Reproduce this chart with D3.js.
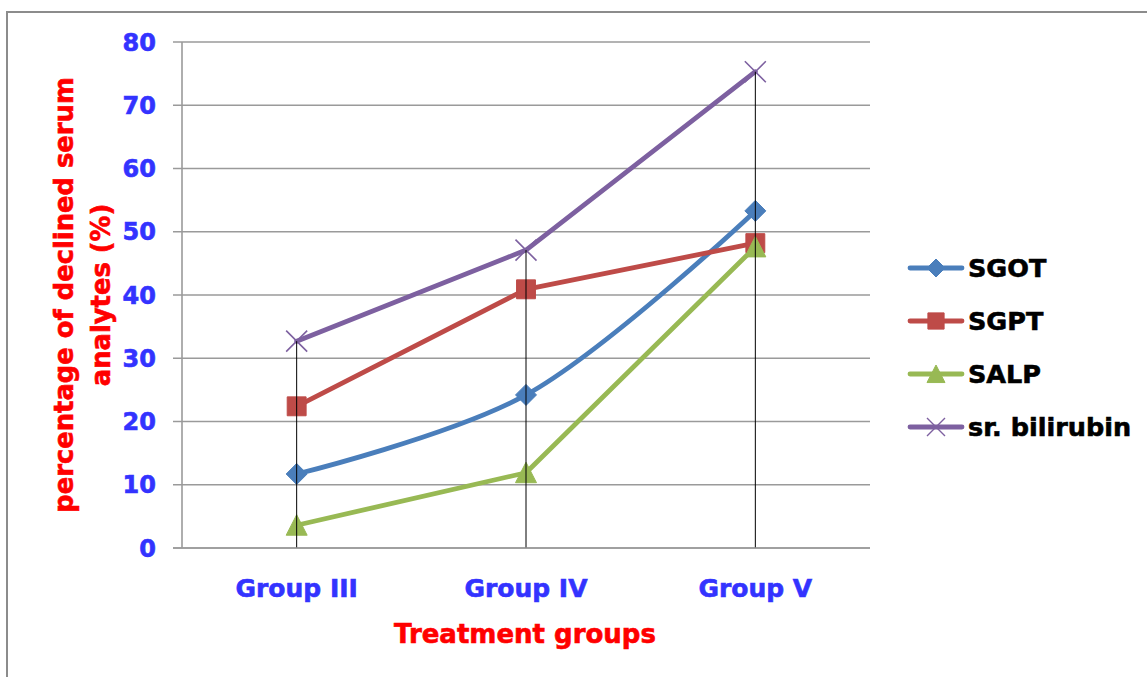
<!DOCTYPE html>
<html>
<head>
<meta charset="utf-8">
<script src="https://cdn.jsdelivr.net/npm/d3@7"></script>
<style>
  html, body { margin: 0; padding: 0; background: #ffffff; }
  svg { display: block; }
  text { font-family: "DejaVu Sans", "Liberation Sans", Arial, sans-serif; font-weight: bold; }
</style>
</head>
<body>
<svg id="chart" width="1147" height="677"></svg>
<script>
// ---- data ----
const categories = ["Group III", "Group IV", "Group V"];
const sgot = [11.7, 24.2, 53.3];
const sgpt = [22.4, 40.9, 48.2];
const salp = [3.6, 11.9, 47.6];
const bilirubin = [32.7, 47.1, 75.3];
const seriesNames = ["SGOT", "SGPT", "SALP", "sr. bilirubin"];
const yTicks = [0, 10, 20, 30, 40, 50, 60, 70, 80];
const yTitleLines = ["percentage of declined serum", "analytes (%)"];
const xTitle = "Treatment groups";

// ---- styles ----
const colors = ["#4A7EBB", "#BE4B48", "#98B954", "#7D60A0"];
const markers = ["diamond", "square", "triangle", "x"];
const smooth = [true, false, false, false];
const tickColor = "#3333FF";
const titleColor = "#FF0000";

const svg = d3.select("#chart");
const W = 1147, H = 677;
const plot = { left: 182, right: 870, top: 42, bottom: 548 };

// outer border
svg.append("rect").attr("x", 7).attr("y", 12).attr("width", W + 10).attr("height", H + 10)
  .attr("fill", "#fff").attr("stroke", "#8c8c8c").attr("stroke-width", 2);

const x = d3.scalePoint().domain(categories).range([plot.left, plot.right]).padding(0.5);
const y = d3.scaleLinear().domain([0, 80]).range([plot.bottom, plot.top]);

// gridlines + tick stubs
svg.append("g").selectAll("line").data(yTicks).join("line")
  .attr("x1", plot.left - 9).attr("x2", plot.right)
  .attr("y1", d => y(d)).attr("y2", d => y(d))
  .attr("stroke", "#9a9a9a").attr("stroke-width", 1.6);

// y axis line
svg.append("line").attr("x1", plot.left).attr("x2", plot.left)
  .attr("y1", y(80)).attr("y2", y(0)).attr("stroke", "#9a9a9a").attr("stroke-width", 1.6);

// y tick labels
svg.append("g").selectAll("text").data(yTicks).join("text")
  .attr("x", 156).attr("y", d => y(d)).attr("dy", "0.36em")
  .attr("text-anchor", "end").attr("fill", tickColor).attr("font-size", 24)
  .attr("stroke", tickColor).attr("stroke-width", 0.6)
  .text(d => d);

// x tick labels
svg.append("g").selectAll("text").data(categories).join("text")
  .attr("x", d => x(d)).attr("y", 597)
  .attr("text-anchor", "middle").attr("fill", tickColor).attr("font-size", 25)
  .attr("stroke", tickColor).attr("stroke-width", 0.6)
  .text(d => d);

// x title
svg.append("text").attr("x", 525).attr("y", 643).attr("text-anchor", "middle")
  .attr("fill", titleColor).attr("stroke", titleColor).attr("stroke-width", 0.6)
  .attr("font-size", 26).text(xTitle);

// y title
const yt = svg.append("text").attr("transform", `translate(73, ${(plot.top + plot.bottom) / 2}) rotate(-90)`)
  .attr("text-anchor", "middle").attr("fill", titleColor).attr("stroke", titleColor)
  .attr("stroke-width", 0.6).attr("font-size", 25.8);
yt.selectAll("tspan").data(yTitleLines).join("tspan")
  .attr("x", 0).attr("y", (d, i) => i * 37).text(d => d);

// marker path generator
function markerPath(type, s) {
  const h = s / 2;
  switch (type) {
    case "diamond": return `M0,${-h}L${h},0L0,${h}L${-h},0Z`;
    case "square": { const a = h * 0.9; return `M${-a},${-a}H${a}V${a}H${-a}Z`; }
    case "triangle": return `M0,${-h}L${h},${h * 0.95}H${-h}Z`;
    case "x": return `M${-h},${-h}L${h},${h}M${h},${-h}L${-h},${h}`;
  }
}

const allSeries = [sgot, sgpt, salp, bilirubin];

// lines
allSeries.forEach((vals, i) => {
  const line = d3.line().x((d, j) => x(categories[j])).y(d => y(d))
    .curve(smooth[i] ? d3.curveCatmullRom.alpha(0.5) : d3.curveLinear);
  svg.append("path").datum(vals).attr("d", line)
    .attr("fill", "none").attr("stroke", colors[i]).attr("stroke-width", 4.8)
    .attr("stroke-linejoin", "round").attr("stroke-linecap", "round");
});

// markers
allSeries.forEach((vals, i) => {
  svg.append("g").selectAll("path").data(vals).join("path")
    .attr("transform", (d, j) => `translate(${x(categories[j])},${y(d)})`)
    .attr("d", markerPath(markers[i], 21))
    .attr("fill", markers[i] === "x" ? "none" : colors[i])
    .attr("stroke", colors[i]).attr("stroke-width", markers[i] === "x" ? 1.6 : 1);
});

// drop lines (from highest value down to axis)
svg.append("g").selectAll("line").data(categories).join("line")
  .attr("x1", d => x(d)).attr("x2", d => x(d))
  .attr("y1", (d, j) => y(d3.max(allSeries, s => s[j])))
  .attr("y2", y(0))
  .attr("stroke", "#000").attr("stroke-width", 1);

// x axis line
svg.append("line").attr("x1", plot.left - 9).attr("x2", plot.right)
  .attr("y1", y(0)).attr("y2", y(0)).attr("stroke", "#9a9a9a").attr("stroke-width", 1.6);

// legend
const lg = svg.append("g").selectAll("g").data(seriesNames).join("g")
  .attr("transform", (d, i) => `translate(910, ${268 + i * 53})`);
lg.append("line").attr("x1", 0).attr("x2", 52).attr("y1", 0).attr("y2", 0)
  .attr("stroke", (d, i) => colors[i]).attr("stroke-width", 4.8).attr("stroke-linecap", "round");
lg.append("path").attr("transform", "translate(26,0)")
  .attr("d", (d, i) => markerPath(markers[i], 18))
  .attr("fill", (d, i) => markers[i] === "x" ? "none" : colors[i])
  .attr("stroke", (d, i) => colors[i]).attr("stroke-width", (d, i) => markers[i] === "x" ? 1.4 : 1);
lg.append("text").attr("x", 58).attr("y", 0).attr("dy", "0.36em")
  .attr("fill", "#000").attr("stroke", "#000").attr("stroke-width", 0.6)
  .attr("font-size", 25.5).text(d => d);
</script>
</body>
</html>
